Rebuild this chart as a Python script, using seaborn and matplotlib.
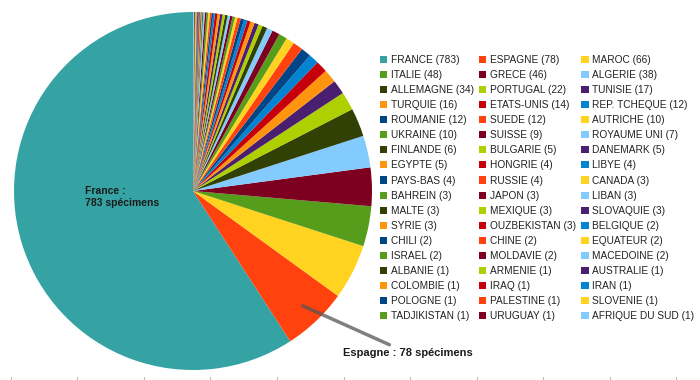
import matplotlib as mpl
mpl.use('Agg')
import matplotlib.pyplot as plt
import seaborn as sns
import numpy as np

countries = ["FRANCE", "ESPAGNE", "MAROC", "ITALIE", "GRECE", "ALGERIE",
             "ALLEMAGNE", "PORTUGAL", "TUNISIE", "TURQUIE", "ETATS-UNIS", "REP. TCHEQUE",
             "ROUMANIE", "SUEDE", "AUTRICHE", "UKRAINE", "SUISSE", "ROYAUME UNI",
             "FINLANDE", "BULGARIE", "DANEMARK", "EGYPTE", "HONGRIE", "LIBYE",
             "PAYS-BAS", "RUSSIE", "CANADA", "BAHREIN", "JAPON", "LIBAN",
             "MALTE", "MEXIQUE", "SLOVAQUIE", "SYRIE", "OUZBEKISTAN", "BELGIQUE",
             "CHILI", "CHINE", "EQUATEUR", "ISRAEL", "MOLDAVIE", "MACEDOINE",
             "ALBANIE", "ARMENIE", "AUSTRALIE", "COLOMBIE", "IRAQ", "IRAN",
             "POLOGNE", "PALESTINE", "SLOVENIE", "TADJIKISTAN", "URUGUAY", "AFRIQUE DU SUD"]
counts = [783, 78, 66, 48, 46, 38,
          34, 22, 17, 16, 14, 12,
          12, 12, 10, 10, 9, 7,
          6, 5, 5, 5, 4, 4,
          4, 4, 3, 3, 3, 3,
          3, 3, 3, 3, 3, 2,
          2, 2, 2, 2, 2, 2,
          1, 1, 1, 1, 1, 1,
          1, 1, 1, 1, 1, 1]

base_colors = ["#004586", "#ff420e", "#ffd320", "#579d1c", "#7e0021", "#83caff",
               "#314004", "#aecf00", "#4b1f6f", "#ff950e", "#c5000b", "#0084d1"]
france_color = "#35a3a3"

sns.set_theme(style="white")
plt.rcParams['font.family'] = ['Liberation Sans', 'DejaVu Sans']

pal = sns.color_palette(base_colors)
colors = [pal[i % len(pal)] for i in range(len(counts))]
colors[0] = sns.color_palette([france_color])[0]

W, H = 700, 380
fig = plt.figure(figsize=(7, 3.8), dpi=100)

cx, cy, r = 193, 191, 179
ax = fig.add_axes([(cx - r) / W, (H - cy - r) / H, 2 * r / W, 2 * r / H])
wedges, _ = ax.pie(counts, colors=colors, startangle=90, counterclock=True,
                   wedgeprops=dict(linewidth=0))
ax.set_xlim(-1, 1)
ax.set_ylim(-1, 1)
ax.set_aspect('equal')
ax.axis('off')

# legend reads row by row, matplotlib fills column by column -> reorder
labels = [f"{c} ({n})" for c, n in zip(countries, counts)]
ncol = 3
nrow = int(np.ceil(len(labels) / ncol))
order = [i * ncol + j for j in range(ncol) for i in range(nrow) if i * ncol + j < len(labels)]
leg = fig.legend([wedges[k] for k in order], [labels[k] for k in order],
                 ncol=ncol, loc='upper left',
                 bbox_to_anchor=(380 / W, 1 - 55 / H), frameon=False,
                 fontsize=7.3, handlelength=0.7, handleheight=0.7,
                 handletextpad=0.35, columnspacing=0.55, labelspacing=0.5,
                 borderpad=0, borderaxespad=0)
for t in leg.get_texts():
    t.set_color('#222222')

# France label
fig.text(85 / W, 1 - 197 / H, "France :\n783 spécimens", fontsize=7.5,
         fontweight='bold', color='#1a1a1a', ha='left', va='center',
         linespacing=1.25)

# Espagne label with leader line
w = wedges[1]
mid = np.deg2rad((w.theta1 + w.theta2) / 2)
ax.annotate("Espagne : 78 spécimens", xy=(0.88 * np.cos(mid), 0.88 * np.sin(mid)),
            xytext=(343, H - 353), textcoords='figure pixels',
            fontsize=8, fontweight='bold', color='#1a1a1a', ha='left', va='center',
            arrowprops=dict(arrowstyle='-', color='#555555', lw=2.5, alpha=0.75,
                            shrinkA=0, shrinkB=1))

# faint ticks along the bottom edge
tick_x = [11, 77, 144, 210, 277, 344, 410, 477, 543, 610, 676]
bax = fig.add_axes([0, 0, 1, 3 / H])
bax.set_xlim(0, W)
bax.set_ylim(0, 1)
for x in tick_x:
    bax.plot([x, x], [0, 1], color='#bbbbbb', lw=0.8)
bax.axis('off')

fig.savefig('out.png', dpi=100)
